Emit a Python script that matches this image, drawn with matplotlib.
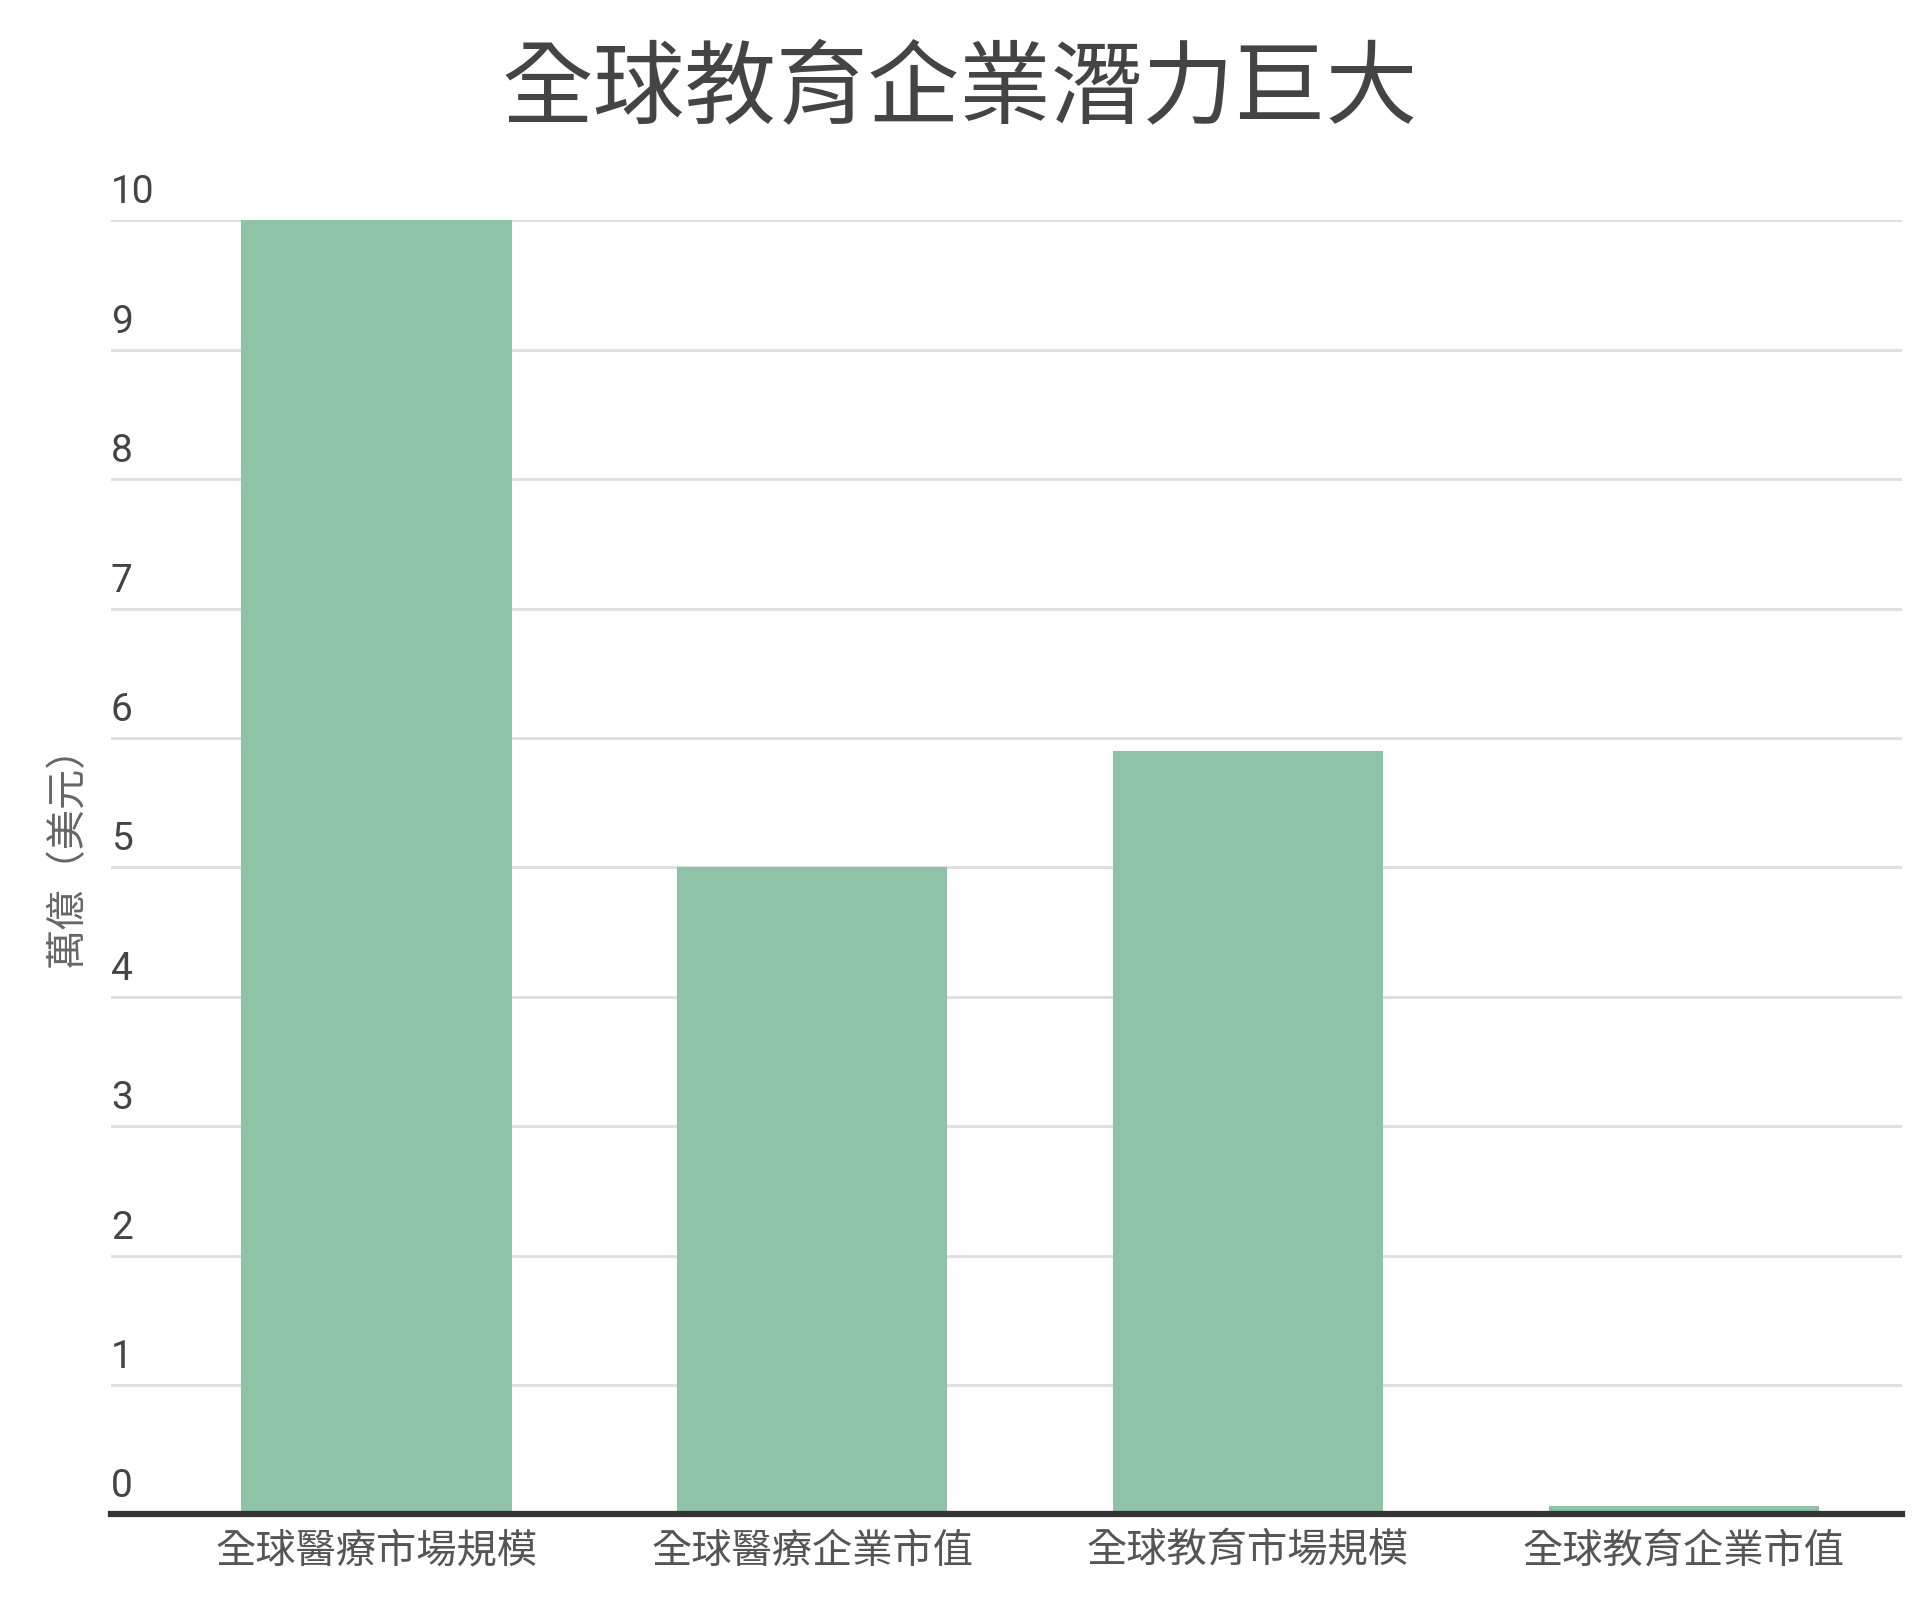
import matplotlib
matplotlib.use('Agg')
import matplotlib.pyplot as plt
import numpy as np

plt.rcParams['font.family'] = ['Noto Sans CJK TC', 'DejaVu Sans']

title = '全球教育企業潛力巨大'
categories = ['全球醫療市場規模', '全球醫療企業市值', '全球教育市場規模', '全球教育企業市值']
values = [10.0, 5.0, 5.9, 0.06]
yticks = [0, 1, 2, 3, 4, 5, 6, 7, 8, 9, 10]
ylabel = '萬億（美元）'

bar_color = '#8fc3a8'

fig = plt.figure(figsize=(19.2, 16.06), dpi=100)
ax = fig.add_axes([0.0577, 0.0565, 0.9904 - 0.0577, 0.8621 - 0.0565])

x = np.arange(len(categories))
ax.bar(x, values, width=0.62, color=bar_color, zorder=2)

ax.set_xlim(-0.61, 3.5)
ax.set_ylim(0, 10)

for s in ['top', 'right', 'left']:
    ax.spines[s].set_visible(False)
ax.spines['bottom'].set_color('#333333')
ax.spines['bottom'].set_linewidth(4.5)
ax.spines['bottom'].set_zorder(3)

# gridlines
for t in yticks[1:]:
    ax.axhline(t, color='#e0e0e0', linewidth=2.2, zorder=1)

# y tick labels sit above the gridlines
ax.set_yticks([])
for t in yticks:
    ax.annotate(str(t), xy=(0, t), xycoords=ax.get_yaxis_transform(),
                xytext=(0, 10), textcoords='offset pixels',
                ha='left', va='bottom', fontsize=28, color='#444444',
                family=['Roboto', 'DejaVu Sans'])

ax.set_xticks(x)
ax.set_xticklabels(categories, fontsize=29, color='#555555', fontweight='light')
ax.tick_params(axis='x', length=0, pad=11)

fig.text(0.035, 0.473, ylabel, rotation=90, ha='center', va='center',
         fontsize=29, color='#666666', fontweight='light')

fig.suptitle(title, x=0.5, y=0.943, va='center', fontsize=66,
             color='#444444', fontweight='light')

fig.savefig('out.png', dpi=100, facecolor='white')
